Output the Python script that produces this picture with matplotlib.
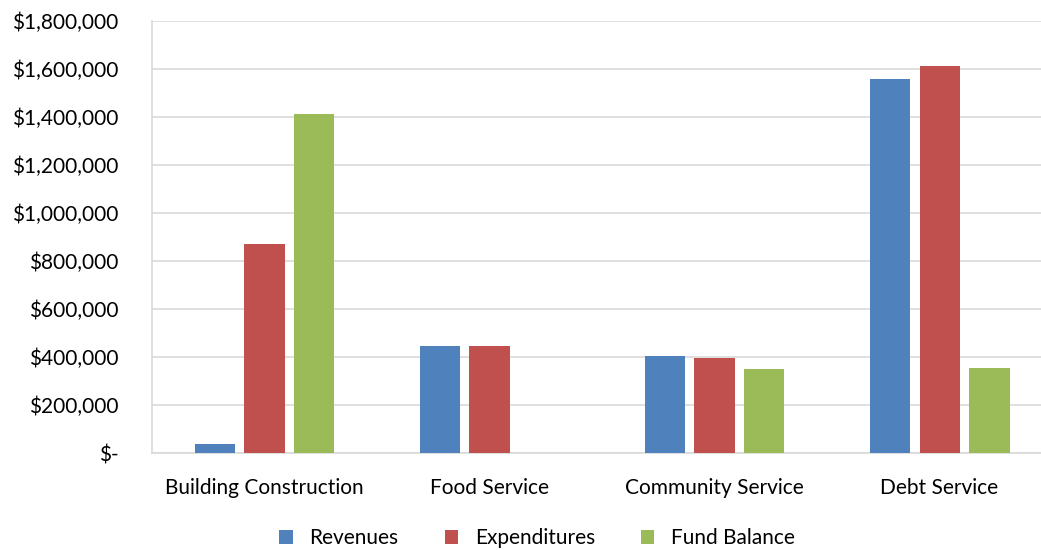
import matplotlib
matplotlib.use('Agg')
from matplotlib import pyplot as plt
from matplotlib.ticker import FuncFormatter
import numpy as np

#------------------------------------------------------------------
# Data.
#
categories = ['Building Construction', 'Food Service', 'Community Service', 'Debt Service']
revenues = [38000, 446000, 403000, 1558000]
expenditures = [870000, 446000, 395000, 1612000]
fund_balance = [1412000, 0, 351000, 354000]
series_names = ['Revenues', 'Expenditures', 'Fund Balance']
colors = ['#4f81bd', '#c0504d', '#9bbb59']

plt.rcParams['font.family'] = ['Lato', 'DejaVu Sans']

fig = plt.figure(figsize=(10.41, 5.5), dpi=100)
# plot area runs slightly past the right edge of the figure, as in the reference
ax = fig.add_axes([0.146, 0.176, 0.8646, 0.786])

x = np.arange(len(categories))
width = 0.178
step = 0.222
for i, (vals, name) in enumerate(zip([revenues, expenditures, fund_balance], series_names)):
    ax.bar(x + (i - 1) * step, vals, width, color=colors[i], label=name, zorder=3)

ax.set_xlim(-0.5, len(categories) - 0.5)
ax.set_ylim(0, 1800000)
ax.set_yticks(np.arange(0, 1800001, 200000))

def money(v, pos):
    return '$-' if v == 0 else '${:,.0f}'.format(v)

ax.yaxis.set_major_formatter(FuncFormatter(money))
ax.set_xticks(x)
ax.set_xticklabels(categories)
ax.tick_params(axis='both', length=0, labelsize=15, colors='black')
ax.tick_params(axis='x', pad=18)
ax.tick_params(axis='y', pad=24)

ax.grid(axis='y', color='#d9d9d9', linewidth=1.2, zorder=0)
for s in ['top', 'right']:
    ax.spines[s].set_visible(False)
for s in ['left', 'bottom']:
    ax.spines[s].set_color('#d9d9d9')
    ax.spines[s].set_linewidth(1.2)

handles, labels = ax.get_legend_handles_labels()
fig.legend(handles, labels, loc='center', bbox_to_anchor=(0.516, 0.022), ncol=3,
           frameon=False, fontsize=15, handlelength=0.65, handleheight=0.65,
           columnspacing=2.2, handletextpad=0.8, borderpad=0)

fig.savefig('out.png', dpi=100)
